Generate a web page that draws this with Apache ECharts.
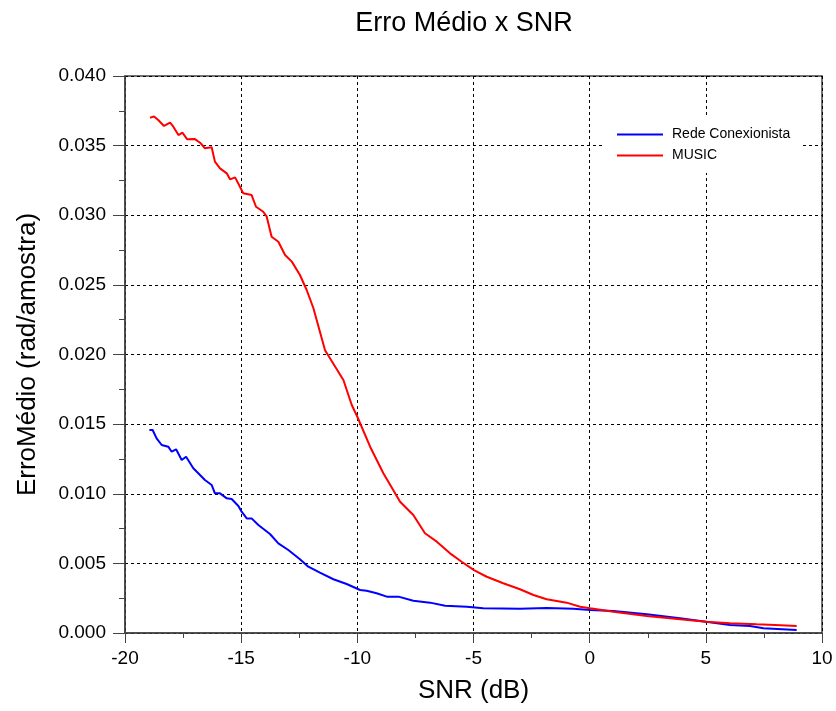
<!DOCTYPE html>
<html>
<head>
<meta charset="utf-8">
<script src="https://cdn.jsdelivr.net/npm/echarts@6/dist/echarts.min.js"></script>
<style>
html,body{margin:0;padding:0;background:#fff;}
#chart{width:836px;height:711px;}
</style>
</head>
<body>
<div id="chart"></div>
<script>
const chartTitle = 'Erro Médio x SNR';
const xAxisTitle = 'SNR (dB)';
const yAxisTitle = 'ErroMédio (rad/amostra)';
const seriesNames = ['Rede Conexionista', 'MUSIC'];

const snrBlue = [-18.95, -18.81, -18.64, -18.42, -18.14, -17.99, -17.80, -17.56, -17.37, -17.06, -16.91, -16.56, -16.27, -16.13, -15.91, -15.62, -15.41, -15.12, -14.98, -14.76, -14.55, -14.26, -13.76, -13.40, -12.97, -12.47, -12.11, -11.61, -11.03, -10.46, -9.88, -9.60, -9.17, -8.73, -8.23, -7.59, -6.87, -6.22, -5.29, -4.58, -3.0, -1.85, -0.70, 0.02, 1.02, 2.46, 3.89, 5.01, 6.04, 6.90, 7.48, 8.91];
const erroBlue = [0.01458, 0.01458, 0.01398, 0.0135, 0.01338, 0.01302, 0.01319, 0.01242, 0.01266, 0.01183, 0.01158, 0.01099, 0.01063, 0.01003, 0.01003, 0.00967, 0.00962, 0.00912, 0.00871, 0.00823, 0.00823, 0.00776, 0.00711, 0.00644, 0.00596, 0.00529, 0.00476, 0.00433, 0.00386, 0.00352, 0.00309, 0.00304, 0.00285, 0.00261, 0.00261, 0.00232, 0.00218, 0.00196, 0.00189, 0.00177, 0.00175, 0.0018, 0.00175, 0.00165, 0.00158, 0.00134, 0.00106, 0.00081, 0.00057, 0.0005, 0.00034, 0.00022];

const snrRed = [-18.92, -18.75, -18.57, -18.32, -18.06, -17.92, -17.70, -17.53, -17.32, -16.99, -16.77, -16.56, -16.27, -16.13, -15.91, -15.62, -15.48, -15.26, -14.91, -14.55, -14.36, -14.05, -13.90, -13.69, -13.40, -13.11, -12.82, -12.47, -12.18, -11.89, -11.39, -10.60, -10.24, -10.0, -9.45, -8.88, -8.16, -7.59, -7.09, -6.58, -6.01, -5.51, -4.98, -4.43, -3.72, -3.0, -2.42, -1.85, -0.99, -0.41, 0.02, 1.02, 2.46, 3.89, 5.01, 6.04, 7.19, 7.98, 8.91];
const erroRed = [0.0370, 0.0371, 0.03684, 0.03641, 0.03665, 0.03636, 0.03576, 0.03593, 0.03545, 0.03547, 0.03521, 0.03481, 0.03488, 0.03385, 0.03337, 0.03301, 0.03258, 0.03272, 0.03158, 0.03145, 0.03061, 0.03025, 0.02990, 0.02846, 0.02810, 0.02715, 0.02667, 0.02571, 0.02463, 0.02332, 0.0203, 0.01817, 0.01637, 0.01553, 0.01338, 0.01147, 0.00943, 0.00847, 0.00716, 0.00656, 0.00572, 0.00512, 0.00452, 0.00404, 0.00357, 0.00314, 0.00273, 0.00242, 0.00218, 0.00189, 0.00177, 0.00153, 0.00122, 0.00098, 0.00081, 0.0007, 0.00062, 0.00057, 0.0005];

const pairs = (xs, ys) => xs.map((x, i) => [x, ys[i]]);
const FONT = '"Liberation Sans", Arial, sans-serif';
const axisCol = '#444';

const chart = echarts.init(document.getElementById('chart'), null, {renderer: 'canvas'});
chart.setOption({
  animation: false,
  backgroundColor: '#fff',
  title: {
    text: chartTitle,
    left: 459, top: 5, textAlign: 'center',
    textStyle: {fontFamily: FONT, fontSize: 27, fontWeight: 'normal', color: '#000'}
  },
  legend: {
    orient: 'vertical',
    left: 605, top: 117,
    padding: [10, 12, 10, 12],
    backgroundColor: '#fff',
    icon: 'rect',
    itemWidth: 46, itemHeight: 2,
    itemGap: 6,
    textStyle: {fontFamily: FONT, fontSize: 14, color: '#000', lineHeight: 15, padding: [0, 0, 0, 4]},
    data: seriesNames
  },
  grid: {
    left: 125, right: 14, top: 76, bottom: 78,
    show: true, borderColor: axisCol, borderWidth: 1.5, backgroundColor: 'transparent',
    outerBoundsMode: 'none', containLabel: false
  },
  xAxis: {
    type: 'value', min: -20, max: 10, interval: 5,
    name: xAxisTitle, nameLocation: 'middle', nameGap: 45,
    nameTextStyle: {fontFamily: FONT, fontSize: 26, color: '#000'},
    axisLine: {show: true, onZero: false, lineStyle: {color: axisCol, width: 1.5}},
    axisTick: {show: true, inside: false, length: 10, lineStyle: {color: axisCol, width: 1}},
    minorTick: {show: true, splitNumber: 2, length: 5, lineStyle: {color: axisCol, width: 1}},
    axisLabel: {fontFamily: FONT, fontSize: 19, color: '#000', margin: 16},
    splitLine: {show: true, lineStyle: {color: '#000', type: [3, 3], width: 1}}
  },
  yAxis: {
    type: 'value', min: 0, max: 0.04, interval: 0.005,
    name: yAxisTitle, nameLocation: 'middle', nameGap: 84, nameRotate: 90,
    nameTextStyle: {fontFamily: FONT, fontSize: 26, color: '#000'},
    axisLine: {show: true, onZero: false, lineStyle: {color: axisCol, width: 1.5}},
    axisTick: {show: true, inside: false, length: 12, lineStyle: {color: axisCol, width: 1}},
    minorTick: {show: true, splitNumber: 2, length: 6, lineStyle: {color: axisCol, width: 1}},
    axisLabel: {fontFamily: FONT, fontSize: 19, color: '#000', margin: 19,
      formatter: v => v.toFixed(3)},
    splitLine: {show: true, lineStyle: {color: '#000', type: [3, 3], width: 1}}
  },
  series: [
    {
      name: seriesNames[0], type: 'line', showSymbol: false, symbol: 'none',
      data: pairs(snrBlue, erroBlue),
      lineStyle: {color: '#0000ff', width: 2}, itemStyle: {color: '#0000ff'}
    },
    {
      name: seriesNames[1], type: 'line', showSymbol: false, symbol: 'none',
      data: pairs(snrRed, erroRed),
      lineStyle: {color: '#ff0000', width: 2}, itemStyle: {color: '#ff0000'}
    }
  ]
});
</script>
</body>
</html>
